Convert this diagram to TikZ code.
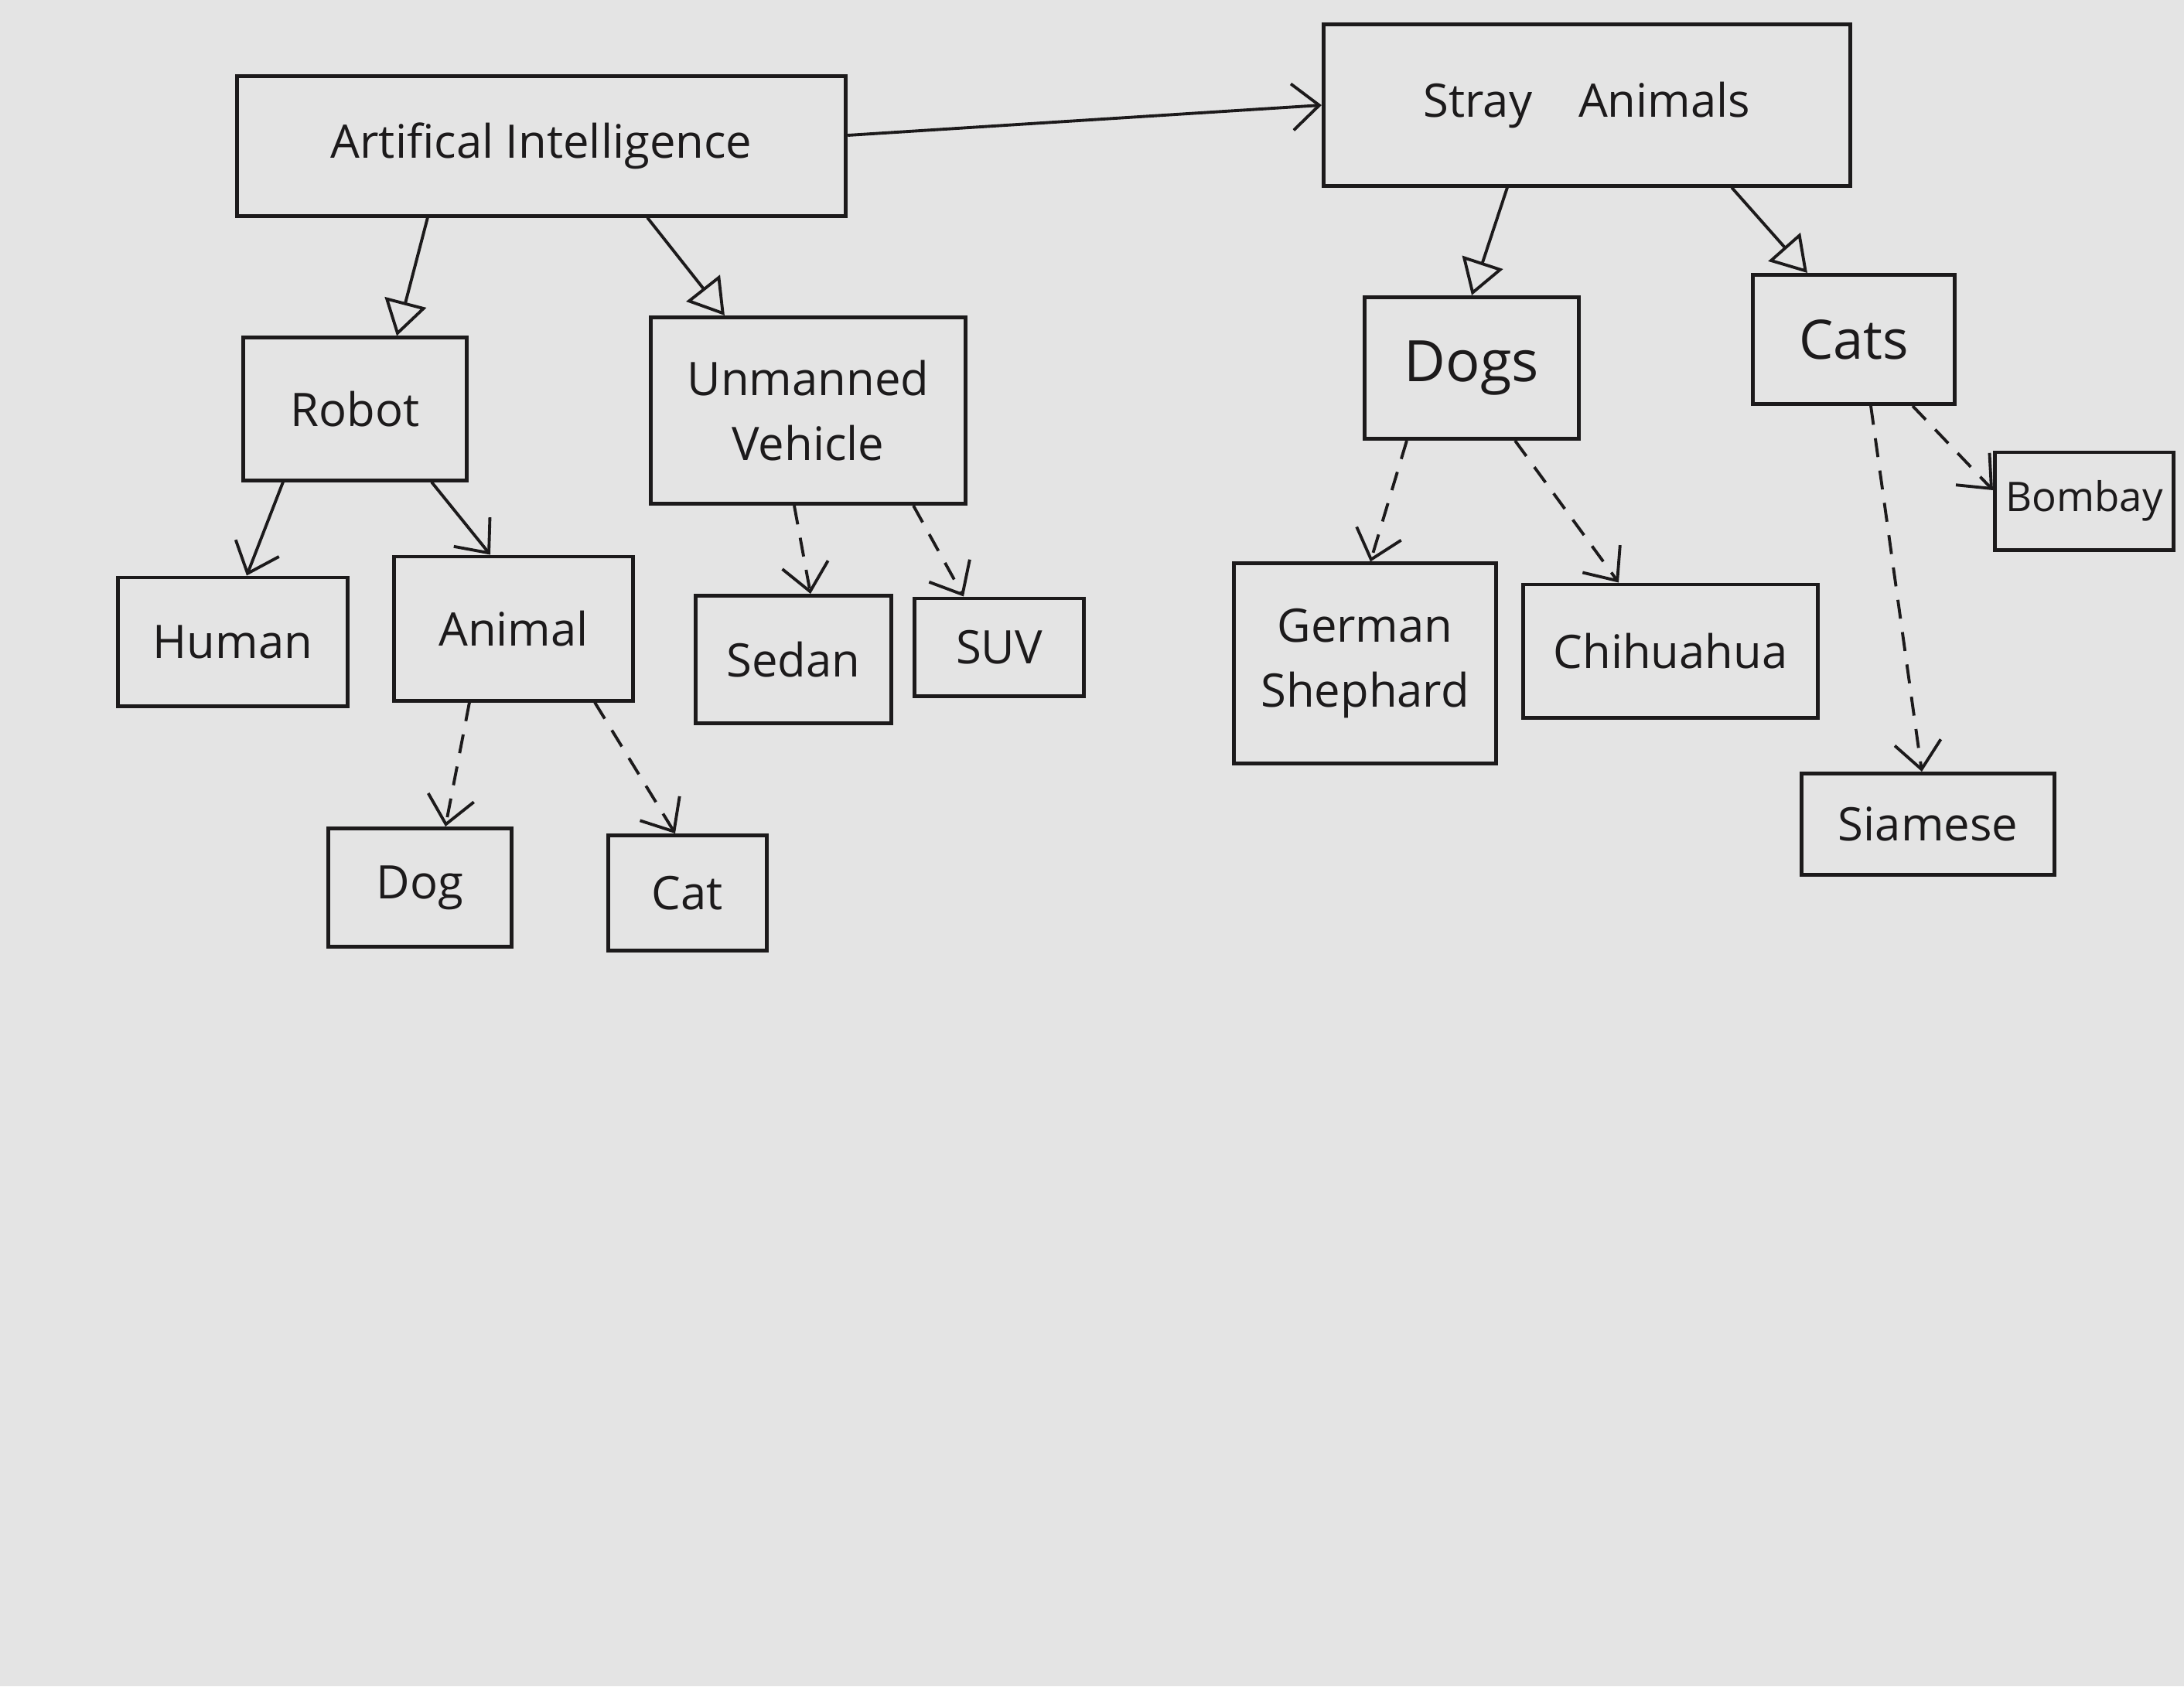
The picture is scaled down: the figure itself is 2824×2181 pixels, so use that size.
\documentclass[tikz,border=0pt]{standalone}
\usepackage{fontspec}
\setmainfont{Open Sans}
\usetikzlibrary{arrows.meta,calc}
\definecolor{paper} {HTML}{E4E4E4}
\definecolor{pencil}{HTML}{1C1A1B}

\begin{document}
\begin{tikzpicture}[
  x=0.01cm, y=-0.01cm,
  font=\fontsize{17}{24}\selectfont, text=pencil,
  box/.style={draw=pencil, line width=1.4pt, align=center, inner sep=2pt},
  link/.style={draw=pencil, line width=1.1pt, -{Straight Barb[length=3.5mm, width=6mm]}},
  dep/.style={link, dash pattern=on 7pt off 5pt},
  gen/.style={draw=pencil, line width=1.1pt, -{Triangle[open, length=4.5mm, width=5.5mm, line width=1.1pt]}}
]
\fill[paper] (0,0) rectangle (2824,2181);

% top level
\node[box, minimum width=7.87cm, minimum height=1.80cm] (ai) at (700,189) {Artifical Intelligence};
\node[box, minimum width=6.81cm, minimum height=2.08cm] (stray) at (2052,136) {Stray\quad Animals};

% second level
\node[box, minimum width=2.88cm, minimum height=1.84cm] (robot) at (459,529) {Robot};
\node[box, minimum width=4.07cm, minimum height=2.41cm] (vehicle) at (1045,531) {Unmanned\\ Vehicle};
\node[box, minimum width=2.76cm, minimum height=1.83cm, font=\fontsize{21}{24}\selectfont] (dogs) at (1903,476) {Dogs};
\node[box, minimum width=2.61cm, minimum height=1.67cm, font=\fontsize{20}{24}\selectfont] (cats) at (2397,439) {Cats};

% leaves
\node[box, minimum width=2.97cm, minimum height=1.66cm] (human) at (301,830) {Human};
\node[box, minimum width=3.09cm, minimum height=1.86cm] (animal) at (664,813) {Animal};
\node[box, minimum width=2.53cm, minimum height=1.65cm] (sedan) at (1026,853) {Sedan};
\node[box, minimum width=2.18cm, minimum height=1.26cm] (suv) at (1292,837) {SUV};
\node[box, minimum width=3.38cm, minimum height=2.58cm] (shepherd) at (1765,858) {German\\ Shephard};
\node[box, minimum width=3.81cm, minimum height=1.72cm] (chihuahua) at (2160,842) {Chihuahua};
\node[box, minimum width=2.31cm, minimum height=1.26cm, font=\fontsize{15}{18}\selectfont] (bombay) at (2695,648) {Bombay};
\node[box, minimum width=3.27cm, minimum height=1.31cm] (siamese) at (2493,1066) {Siamese};
\node[box, minimum width=2.36cm, minimum height=1.53cm] (dog) at (543,1148) {Dog};
\node[box, minimum width=2.04cm, minimum height=1.49cm] (cat) at (889,1155) {Cat};

% inheritance
\draw[gen] ([xshift=-1.47cm]ai.south) -- ([xshift=0.54cm]robot.north);
\draw[gen] ([xshift=1.37cm]ai.south) -- ([xshift=-1.08cm]vehicle.north);
\draw[gen] ([xshift=-1.03cm]stray.south) -- (dogs.north);
\draw[gen] ([xshift=1.87cm]stray.south) -- ([xshift=-0.6cm]cats.north);

% associations
\draw[link] ([yshift=0.14cm]ai.east) -- (stray.west);
\draw[link] ([xshift=-0.93cm]robot.south) -- ([xshift=0.18cm]human.north);
\draw[link] ([xshift=0.99cm]robot.south) -- ([xshift=-0.3cm]animal.north);

% dependencies
\draw[dep] ([xshift=-0.57cm]animal.south) -- ([xshift=0.33cm]dog.north);
\draw[dep] ([xshift=1.05cm]animal.south) -- ([xshift=-0.16cm]cat.north);
\draw[dep] ([xshift=-0.18cm]vehicle.south) -- ([xshift=0.22cm]sedan.north);
\draw[dep] ([xshift=1.36cm]vehicle.south) -- ([xshift=-0.46cm]suv.north);
\draw[dep] ([xshift=-0.84cm]dogs.south) -- ([xshift=0.07cm]shepherd.north);
\draw[dep] ([xshift=0.56cm]dogs.south) -- ([xshift=-0.67cm]chihuahua.north);
\draw[dep] ([xshift=0.22cm]cats.south) -- ([xshift=-0.08cm]siamese.north);
\draw[dep] ([xshift=0.76cm]cats.south) -- ([yshift=0.14cm]bombay.west);
\end{tikzpicture}
\end{document}
